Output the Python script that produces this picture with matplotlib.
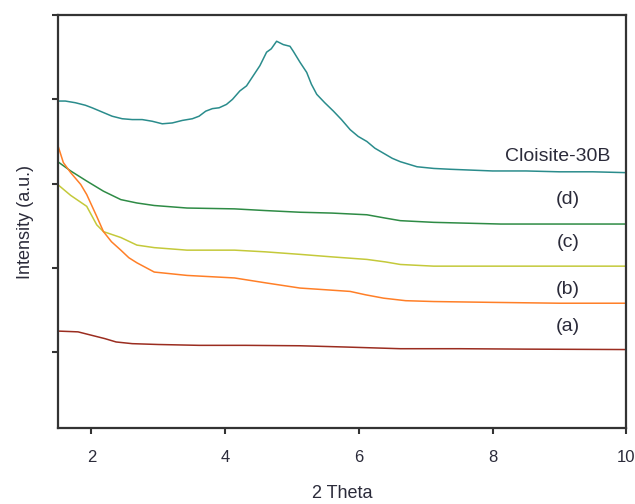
# XRD patterns: Cloisite-30B and samples (a)-(d)
import matplotlib.pyplot as plt

# 2 theta positions and intensity (a.u.)
x_cl = [1.48, 1.61, 1.76, 1.91, 2.01, 2.16, 2.31, 2.46, 2.61, 2.76, 2.91, 3.06, 3.21,
        3.36, 3.51, 3.61, 3.71, 3.81, 3.91, 4.02, 4.11, 4.22, 4.32, 4.42, 4.52, 4.62,
        4.69, 4.77, 4.87, 4.97, 5.02, 5.12, 5.22, 5.29, 5.37, 5.49, 5.62, 5.74, 5.87,
        5.99, 6.12, 6.24, 6.37, 6.50, 6.62, 6.87, 7.12, 7.37, 8.0, 8.5, 9.0, 9.5, 10.0]
y_cl = [3.98, 3.98, 3.96, 3.93, 3.90, 3.85, 3.80, 3.77, 3.76, 3.76, 3.74, 3.71, 3.72,
        3.75, 3.77, 3.80, 3.86, 3.89, 3.90, 3.94, 4.00, 4.10, 4.16, 4.28, 4.40, 4.56,
        4.60, 4.69, 4.65, 4.63, 4.57, 4.44, 4.32, 4.18, 4.06, 3.96, 3.86, 3.76, 3.64,
        3.56, 3.50, 3.42, 3.36, 3.30, 3.26, 3.20, 3.18, 3.17, 3.15, 3.15, 3.14, 3.14, 3.13]

x_d = [1.48, 1.69, 1.93, 2.18, 2.44, 2.68, 2.94, 3.43, 4.14, 4.6, 5.12, 5.6, 6.12,
       6.4, 6.62, 7.12, 8.12, 9.0, 10.0]
y_d = [3.27, 3.15, 3.03, 2.91, 2.81, 2.77, 2.74, 2.71, 2.70, 2.68, 2.66, 2.65, 2.63,
       2.59, 2.56, 2.54, 2.52, 2.52, 2.52]

x_c = [1.48, 1.69, 1.93, 2.08, 2.18, 2.44, 2.68, 2.94, 3.43, 4.14, 4.6, 5.12, 5.6,
       6.12, 6.4, 6.62, 7.12, 8.12, 9.0, 10.0]
y_c = [3.00, 2.86, 2.73, 2.51, 2.43, 2.36, 2.27, 2.24, 2.21, 2.21, 2.19, 2.16, 2.13,
       2.10, 2.07, 2.04, 2.02, 2.02, 2.02, 2.02]

x_b = [1.48, 1.58, 1.69, 1.84, 1.93, 2.08, 2.18, 2.3, 2.44, 2.56, 2.68, 2.94, 3.43,
       4.14, 4.62, 5.12, 5.5, 5.87, 6.1, 6.37, 6.7, 7.12, 8.0, 9.0, 10.0]
y_b = [3.50, 3.25, 3.13, 2.99, 2.87, 2.61, 2.43, 2.31, 2.21, 2.12, 2.06, 1.95, 1.91,
       1.88, 1.82, 1.76, 1.74, 1.72, 1.68, 1.64, 1.61, 1.60, 1.59, 1.58, 1.58]

x_a = [1.48, 1.8, 2.0, 2.2, 2.37, 2.61, 3.0, 3.61, 4.3, 5.12, 5.8, 6.62, 7.5, 8.5, 10.0]
y_a = [1.25, 1.24, 1.20, 1.16, 1.12, 1.10, 1.09, 1.08, 1.08, 1.075, 1.06, 1.04, 1.04,
       1.035, 1.03]

plt.rcParams['font.family'] = ['Liberation Sans', 'DejaVu Sans']

fig = plt.figure(figsize=(6.35, 5.04), dpi=100)
ax = fig.add_axes([0.0913, 0.151, 0.895, 0.819])

ax.plot(x_cl, y_cl, color='#2a8c8c', lw=1.1)
ax.plot(x_d, y_d, color='#2e8b45', lw=1.1)
ax.plot(x_c, y_c, color='#c4c93a', lw=1.1)
ax.plot(x_b, y_b, color='#ff7f27', lw=1.1)
ax.plot(x_a, y_a, color='#9b2d20', lw=1.1)

# подписи кривых
txt = dict(fontsize=14, color='#2b2b3a', ha='center', va='center')
ax.text(8.97, 3.32, 'Cloisite-30B', **txt)
ax.text(9.13, 2.81, '(d)', **txt)
ax.text(9.13, 2.30, '(c)', **txt)
ax.text(9.13, 1.74, '(b)', **txt)
ax.text(9.13, 1.30, '(a)', **txt)

ax.set_xlim(1.5, 10)
ax.set_ylim(0.1, 5)
ax.set_xticks([2, 4, 6, 8, 10])
ax.set_yticks([1, 2, 3, 4, 5])
ax.set_yticklabels([])
ax.tick_params(direction='out', length=4, width=1.5, colors='#333333',
               labelsize=12, labelcolor='#2b2b3a')
ax.tick_params(axis='x', pad=12)
for s in ax.spines.values():
    s.set_linewidth(1.6)
    s.set_color('#333333')

ax.set_xlabel('2 Theta', fontsize=13, color='#2b2b3a', labelpad=14)
ax.set_ylabel('Intensity (a.u.)', fontsize=13, color='#2b2b3a', labelpad=10)

fig.savefig('out.png', dpi=100)
